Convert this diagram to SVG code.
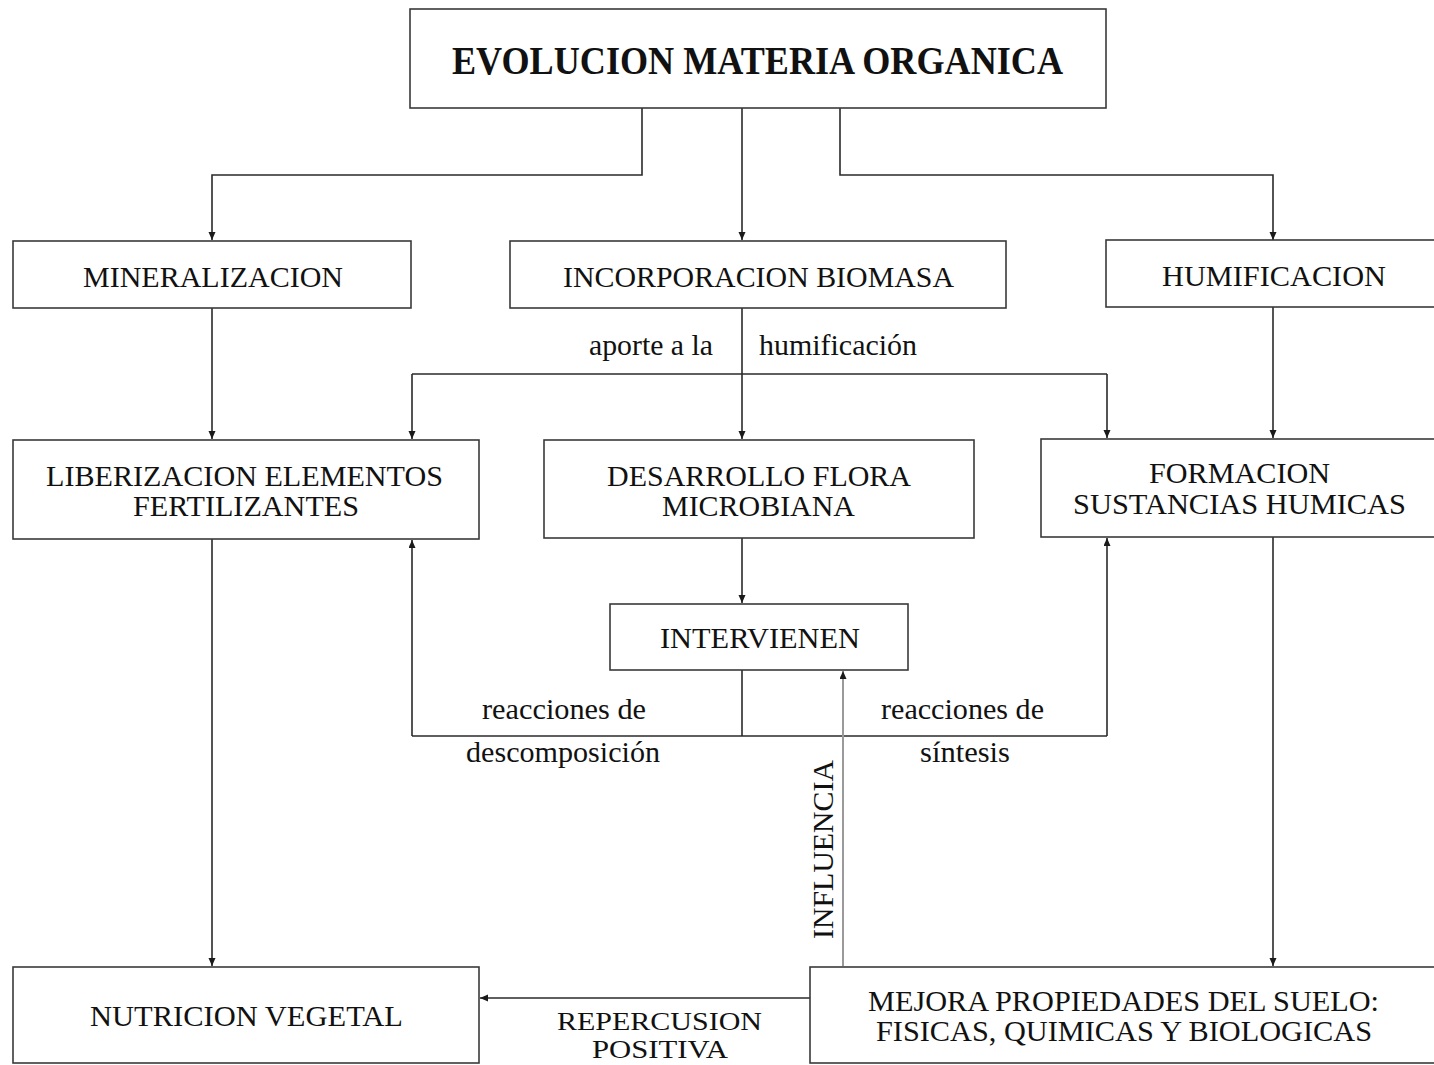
<svg xmlns="http://www.w3.org/2000/svg" width="1434" height="1065" viewBox="0 0 1434 1065">
<defs>
<style>
.box{fill:#fff;stroke:#3a3a3a;stroke-width:1.6}
.t{font-family:"Liberation Serif","Times New Roman",serif;font-size:29px;fill:#111}
.s{font-size:26px}
.title{font-family:"Liberation Serif","Times New Roman",serif;font-size:40px;font-weight:bold;fill:#111}
.c{fill:none;stroke:#2a2a2a;stroke-width:1.6}
.g{fill:none;stroke:#9a9a9a;stroke-width:2}
</style>
<marker id="a" markerUnits="userSpaceOnUse" markerWidth="9" markerHeight="8" refX="8" refY="3.5" orient="auto">
<path d="M0,0 L8,3.5 L0,7 z" fill="#1a1a1a"/>
</marker>
</defs>
<rect width="1434" height="1065" fill="#fff"/>

<g id="connectors">
<path class="c" d="M642,108 V175 H212 V240" marker-end="url(#a)"/>
<path class="c" d="M742,108 V240" marker-end="url(#a)"/>
<path class="c" d="M840,108 V175 H1273 V240" marker-end="url(#a)"/>
<path class="c" d="M212,308 V439" marker-end="url(#a)"/>
<path class="c" d="M742,308 V439" marker-end="url(#a)"/>
<path class="c" d="M1273,307 V438" marker-end="url(#a)"/>
<path class="c" d="M412,374 H1107"/>
<path class="c" d="M412,374 V439" marker-end="url(#a)"/>
<path class="c" d="M1107,374 V438" marker-end="url(#a)"/>
<path class="c" d="M742,538 V603" marker-end="url(#a)"/>
<path class="c" d="M742,670 V736"/>
<path class="c" d="M412,736 H1107"/>
<path class="c" d="M412,736 V540" marker-end="url(#a)"/>
<path class="c" d="M1107,736 V538" marker-end="url(#a)"/>
<path class="c" d="M212,539 V966" marker-end="url(#a)"/>
<path class="c" d="M1273,537 V966" marker-end="url(#a)"/>
<path class="g" d="M843,966 V671" marker-end="url(#a)"/>
<path class="c" d="M810,998 H480" marker-end="url(#a)"/>
<text class="t" x="589" y="355" textLength="124" lengthAdjust="spacingAndGlyphs">aporte a la</text>
<text class="t" x="759" y="355" textLength="158" lengthAdjust="spacingAndGlyphs">humificación</text>
<text class="t" x="482" y="719" textLength="164" lengthAdjust="spacingAndGlyphs">reacciones de</text>
<text class="t" x="466" y="762" textLength="194" lengthAdjust="spacingAndGlyphs">descomposición</text>
<text class="t" x="881" y="719" textLength="163" lengthAdjust="spacingAndGlyphs">reacciones de</text>
<text class="t" x="920" y="762" textLength="90" lengthAdjust="spacingAndGlyphs">síntesis</text>
<text class="t" transform="translate(833,939) rotate(-90)" x="0" y="0" textLength="179" lengthAdjust="spacingAndGlyphs">INFLUENCIA</text>
<text class="t s" x="557" y="1030" textLength="205" lengthAdjust="spacingAndGlyphs">REPERCUSION</text>
<text class="t s" x="592" y="1058" textLength="136" lengthAdjust="spacingAndGlyphs">POSITIVA</text>
</g>

<g id="n-evolucion">
<rect class="box" x="410" y="9" width="696" height="99"/>
<text class="title" x="452" y="74" textLength="611" lengthAdjust="spacingAndGlyphs">EVOLUCION MATERIA ORGANICA</text>
</g>
<g id="n-mineralizacion">
<rect class="box" x="13" y="241" width="398" height="67"/>
<text class="t" x="83" y="287" textLength="260" lengthAdjust="spacingAndGlyphs">MINERALIZACION</text>
</g>
<g id="n-incorporacion">
<rect class="box" x="510" y="241" width="496" height="67"/>
<text class="t" x="563" y="287" textLength="391" lengthAdjust="spacingAndGlyphs">INCORPORACION BIOMASA</text>
</g>
<g id="n-humificacion">
<rect class="box" x="1106" y="240" width="340" height="67"/>
<text class="t" x="1162" y="286" textLength="224" lengthAdjust="spacingAndGlyphs">HUMIFICACION</text>
</g>
<g id="n-liberizacion">
<rect class="box" x="13" y="440" width="466" height="99"/>
<text class="t" x="46" y="486" textLength="397" lengthAdjust="spacingAndGlyphs">LIBERIZACION ELEMENTOS</text>
<text class="t" x="133" y="516" textLength="226" lengthAdjust="spacingAndGlyphs">FERTILIZANTES</text>
</g>
<g id="n-desarrollo">
<rect class="box" x="544" y="440" width="430" height="98"/>
<text class="t" x="607" y="486" textLength="304" lengthAdjust="spacingAndGlyphs">DESARROLLO FLORA</text>
<text class="t" x="662" y="516" textLength="193" lengthAdjust="spacingAndGlyphs">MICROBIANA</text>
</g>
<g id="n-formacion">
<rect class="box" x="1041" y="439" width="405" height="98"/>
<text class="t" x="1149" y="483" textLength="181" lengthAdjust="spacingAndGlyphs">FORMACION</text>
<text class="t" x="1073" y="514" textLength="333" lengthAdjust="spacingAndGlyphs">SUSTANCIAS HUMICAS</text>
</g>
<g id="n-intervienen">
<rect class="box" x="610" y="604" width="298" height="66"/>
<text class="t" x="660" y="648" textLength="200" lengthAdjust="spacingAndGlyphs">INTERVIENEN</text>
</g>
<g id="n-nutricion">
<rect class="box" x="13" y="967" width="466" height="96"/>
<text class="t" x="90" y="1026" textLength="313" lengthAdjust="spacingAndGlyphs">NUTRICION VEGETAL</text>
</g>
<g id="n-mejora">
<rect class="box" x="810" y="967" width="640" height="96"/>
<text class="t" x="868" y="1011" textLength="511" lengthAdjust="spacingAndGlyphs">MEJORA PROPIEDADES DEL SUELO:</text>
<text class="t" x="876" y="1041" textLength="496" lengthAdjust="spacingAndGlyphs">FISICAS, QUIMICAS Y BIOLOGICAS</text>
</g>
</svg>
